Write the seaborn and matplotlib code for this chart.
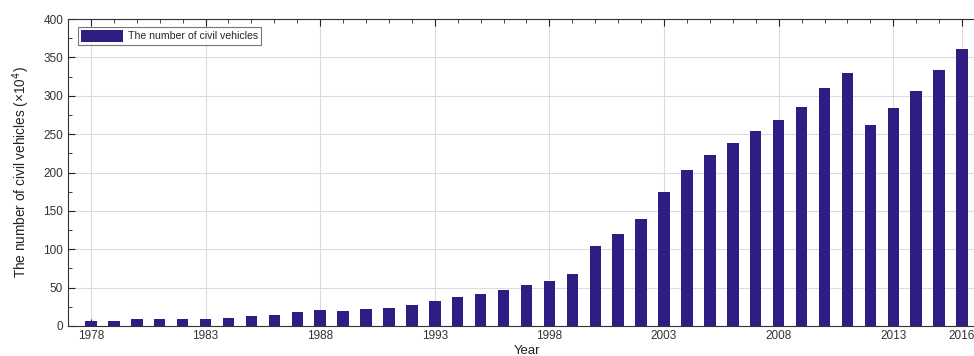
import matplotlib
matplotlib.use("Agg")
import matplotlib.pyplot as plt
from matplotlib.ticker import MultipleLocator, FixedLocator
import seaborn as sns
import pandas as pd

years = list(range(1978, 2017))
vehicles = [7, 7, 9, 9.5, 9.5, 8.5, 10.5, 12.5, 14, 18,
            20.5, 20, 21.5, 23, 27, 32.7, 38, 42, 46.6, 54,
            58.4, 68, 104.6, 120, 139.4, 174.3, 203.5, 222.7, 238.8, 254.5,
            268.8, 285.8, 310.7, 329.8, 262, 283.4, 305.7, 333.6, 360.6]
year_ticks = [1978, 1983, 1988, 1993, 1998, 2003, 2008, 2013, 2016]
series_label = "The number of civil vehicles"

df = pd.DataFrame({"Year": years, "Vehicles": vehicles})

sns.set_theme(style="white")
plt.rcParams["font.family"] = ["Liberation Sans", "DejaVu Sans"]

fig = plt.figure(figsize=(9.74, 3.56), dpi=100)
ax = fig.add_axes([68 / 974, 30 / 356, (985 - 68) / 974, (326 - 19) / 356])

bar_color = "#2E1E84"
sns.barplot(data=df, x="Year", y="Vehicles", native_scale=True, width=0.5,
            color=bar_color, saturation=1, edgecolor="none",
            label=series_label, ax=ax, zorder=3)

ax.set_xlim(1977, 2017)
ax.set_ylim(0, 400)
ax.xaxis.set_major_locator(FixedLocator(year_ticks))
ax.xaxis.set_minor_locator(MultipleLocator(1))
ax.yaxis.set_major_locator(MultipleLocator(50))
ax.yaxis.set_minor_locator(MultipleLocator(25))
ax.set_xticklabels([str(y) for y in year_ticks])

ax.grid(True, which="major", color="#dcdcdc", linewidth=0.8, zorder=0)
ax.set_axisbelow(True)

ax.tick_params(axis="both", which="both", direction="in", top=True,
               bottom=True, left=True, right=False, colors="#222222",
               labelcolor="#333333", labelsize=8.5)
ax.tick_params(axis="both", which="major", length=5, width=0.8)
ax.tick_params(axis="both", which="minor", length=3, width=0.6)
ax.tick_params(axis="x", which="major", pad=3)

for side in ["left", "bottom", "top"]:
    ax.spines[side].set_color("#333333")
    ax.spines[side].set_linewidth(0.8)
ax.spines["right"].set_visible(False)

ax.set_xlabel("Year", fontsize=9.5, color="#222222", labelpad=2)
ax.set_ylabel("The number of civil vehicles (×10$^4$)", fontsize=9.8,
              color="#222222", labelpad=8)

leg = ax.legend(loc="upper left", fontsize=7.6, frameon=True, fancybox=False,
                handlelength=4.0, handleheight=1.4, borderpad=0.3,
                handletextpad=0.4, bbox_to_anchor=(0.011, 0.975),
                borderaxespad=0.0)
leg.get_frame().set_edgecolor("#555555")
leg.get_frame().set_linewidth(0.8)

fig.savefig("out.png", dpi=100)
